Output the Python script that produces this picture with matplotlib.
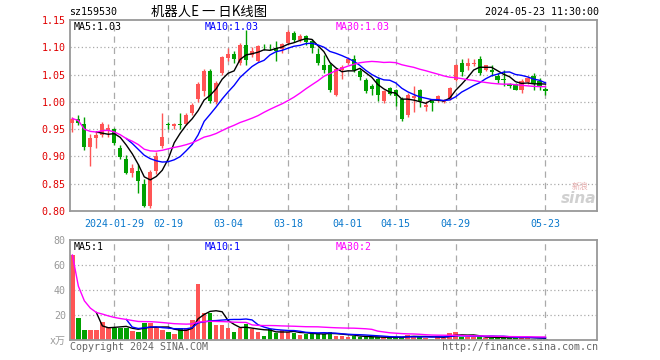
import matplotlib
matplotlib.use('Agg')
import matplotlib.pyplot as plt
import numpy as np
import pandas as pd

plt.rcParams['font.family'] = ['DejaVu Sans Mono', 'Noto Sans CJK SC']

# trading days 2024-01-18 .. 2024-05-23 (exchange holidays removed)
holidays = ['2024-02-09', '2024-02-12', '2024-02-13', '2024-02-14', '2024-02-15',
            '2024-02-16', '2024-04-04', '2024-04-05', '2024-05-01', '2024-05-02', '2024-05-03']
days = pd.bdate_range('2024-01-18', '2024-05-23')
days = days[~days.isin(pd.to_datetime(holidays))]

opens = [0.962, 0.968, 0.959, 0.918, 0.934, 0.940, 0.949, 0.950, 0.915, 0.895,
         0.869, 0.873, 0.849, 0.810, 0.873, 0.919, 0.959, 0.956, 0.960, 0.960,
         0.979, 1.005, 1.020, 1.056, 1.000, 1.053, 1.080, 1.088, 1.072, 1.104,
         1.085, 1.075, 1.101, 1.101, 1.099, 1.096, 1.108, 1.127, 1.114, 1.120,
         1.111, 1.088, 1.068, 1.068, 1.012, 1.058, 1.071, 1.079, 1.057, 1.040,
         1.029, 1.041, 1.001, 1.025, 1.022, 1.005, 0.975, 1.007, 1.021, 0.991,
         1.001, 1.002, 1.000, 1.005, 1.040, 1.071, 1.0665, 1.070, 1.079, 1.058,
         1.059, 1.048, 1.042, 1.032, 1.032, 1.022, 1.036, 1.047, 1.038, 1.024]
highs = [0.972, 0.976, 0.972, 0.942, 0.945, 0.963, 0.960, 0.952, 0.921, 0.902,
         0.887, 0.887, 0.858, 0.875, 0.908, 0.979, 0.963, 0.962, 0.979, 0.979,
         0.998, 1.036, 1.060, 1.060, 1.038, 1.084, 1.098, 1.094, 1.108, 1.131,
         1.100, 1.104, 1.106, 1.106, 1.112, 1.108, 1.132, 1.130, 1.125, 1.123,
         1.115, 1.099, 1.086, 1.072, 1.062, 1.068, 1.083, 1.085, 1.060, 1.043,
         1.032, 1.046, 1.022, 1.028, 1.024, 1.008, 1.016, 1.029, 1.024, 1.001,
         1.003, 1.013, 1.006, 1.027, 1.070, 1.078, 1.081, 1.079, 1.084, 1.068,
         1.068, 1.053, 1.058, 1.035, 1.035, 1.042, 1.047, 1.053, 1.044, 1.028]
lows = [0.945, 0.958, 0.912, 0.883, 0.915, 0.936, 0.936, 0.921, 0.896, 0.868,
        0.863, 0.833, 0.807, 0.805, 0.867, 0.915, 0.951, 0.950, 0.951, 0.958,
        0.975, 1.000, 1.010, 0.997, 0.996, 1.050, 1.075, 1.072, 1.068, 1.068,
        1.082, 1.073, 1.095, 1.095, 1.075, 1.090, 1.105, 1.110, 1.110, 1.105,
        1.090, 1.068, 1.053, 1.018, 1.010, 1.041, 1.070, 1.055, 1.040, 1.016,
        1.012, 1.001, 0.998, 1.012, 0.993, 0.965, 0.972, 0.981, 0.991, 0.983,
        0.983, 1.000, 0.998, 1.003, 1.038, 1.047, 1.059, 1.065, 1.050, 1.056,
        1.047, 1.035, 1.029, 1.025, 1.021, 1.016, 1.033, 1.022, 1.022, 1.013]
closes = [0.9695, 0.962, 0.918, 0.934, 0.940, 0.959, 0.952, 0.924, 0.899, 0.870,
          0.879, 0.855, 0.810, 0.871, 0.901, 0.936, 0.958, 0.959, 0.958, 0.976,
          0.994, 1.033, 1.056, 1.001, 1.035, 1.082, 1.088, 1.078, 1.105, 1.077,
          1.093, 1.102, 1.100, 1.100, 1.094, 1.106, 1.128, 1.114, 1.121, 1.110,
          1.099, 1.071, 1.059, 1.022, 1.060, 1.064, 1.079, 1.059, 1.045, 1.019,
          1.023, 1.013, 1.019, 1.015, 1.010, 0.968, 1.013, 1.010, 1.001, 0.995,
          0.998, 1.011, 1.003, 1.026, 1.068, 1.054, 1.0715, 1.072, 1.052, 1.067,
          1.054, 1.040, 1.040, 1.029, 1.022, 1.038, 1.044, 1.032, 1.029, 1.020]
# volume, 10k lots
volumes = [68, 18, 8, 8, 8, 14.5, 10.5, 9.5, 10, 10,
           7, 6.5, 13.5, 14, 10, 8, 6.5, 5, 9.5, 9.5,
           16, 45, 22, 22, 12, 12, 10, 6.5, 9.5, 13,
           8.5, 6.5, 3.5, 8.5, 5.5, 8, 6.5, 6, 4, 4.5,
           5.5, 5, 5, 6.5, 3.5, 3.5, 2.7, 3.5, 2.7, 2.1,
           2.1, 2.1, 2.1, 2.6, 2.1, 2.1, 4.2, 3.6, 2.1, 2.0,
           1.1, 3.5, 2.0, 5.8, 6.6, 2.6, 2.6, 2.6, 2.6, 1.3,
           2.0, 2.0, 2.0, 2.0, 2.0, 1.6, 2.6, 1.0, 1.0, 0.8]

tick_dates = ['2024-01-29', '2024-02-19', '2024-03-04', '2024-03-18',
              '2024-04-01', '2024-04-15', '2024-04-29', '2024-05-23']
tick_labels = ['2024-01-29', '02-19', '03-04', '03-18', '04-01', '04-15', '04-29', '05-23']
price_ticks = [0.80, 0.85, 0.90, 0.95, 1.00, 1.05, 1.10, 1.15]
vol_ticks = [0, 20, 40, 60, 80]
vol_tick_labels = ['x万', '20', '40', '60', '80']
price_ma_text = ['MA5:1.03', 'MA10:1.03', 'MA30:1.03']
vol_ma_text = ['MA5:1', 'MA10:1', 'MA30:2']

RED = '#ff5555'
GREEN = '#00a000'
GRID = '#aaaaaa'
FRAME = '#999999'
MA_COLORS = ['black', '#0000ff', '#ff00ff']

x = np.arange(len(closes))
o, h, l, c = map(np.array, (opens, highs, lows, closes))
up = c >= o
colors = np.where(up, RED, GREEN)
tick_pos = [list(days.strftime('%Y-%m-%d')).index(d) for d in tick_dates]

fig = plt.figure(figsize=(6.6, 3.6), dpi=100)
W, H = 660, 360
ax = fig.add_axes([70 / W, 1 - 211 / H, 527 / W, 191 / H])
axv = fig.add_axes([70 / W, 1 - 340 / H, 527 / W, 100 / H])
xlim = (-0.4, 87.6)


def frame(a):
    for s in a.spines.values():
        s.set_color(FRAME)
        s.set_linewidth(1.3)
    a.tick_params(length=0)
    for p in tick_pos:
        a.axvline(p, color=GRID, lw=0.9, ls=(0, (5, 4)), zorder=0)


# price panel
frame(ax)
for yv in price_ticks[1:-1]:
    ax.axhline(yv, color=GRID, lw=0.9, ls=(0, (1, 2)), zorder=0)
ax.vlines(x, l, h, colors=colors, lw=1, zorder=2)
body = np.maximum(np.abs(c - o), 0.0012)
ax.bar(x, body, bottom=np.minimum(o, c), width=0.7, color=colors, zorder=3)
cs = pd.Series(closes)
ma_lines = [cs.rolling(5).mean(), cs.rolling(10).mean(), cs.rolling(30, min_periods=1).mean()]
for m, col in zip(ma_lines, MA_COLORS):
    ax.plot(x, m, color=col, lw=1, zorder=4)
ax.set_xlim(*xlim)
ax.set_ylim(0.80, 1.15)
ax.set_yticks(price_ticks, ['%.2f' % v for v in price_ticks], color='#e00000', fontsize=7.2)
ax.set_xticks(tick_pos, tick_labels, color='#0a78cc', fontsize=7.2)
ax.tick_params(axis='x', pad=6)
ax.tick_params(axis='y', pad=3)

# volume panel
frame(axv)
for yv in vol_ticks[1:-1]:
    axv.axhline(yv, color=GRID, lw=0.9, ls=(0, (1, 2)), zorder=0)
axv.bar(x, volumes, width=0.78, color=colors, zorder=2)
vs = pd.Series(volumes)
vol_ma = [vs.rolling(5).mean(), vs.rolling(10).mean(), vs.rolling(30, min_periods=1).mean()]
for m, col in zip(vol_ma, MA_COLORS):
    axv.plot(x, m, color=col, lw=1, zorder=3)
axv.set_xlim(*xlim)
axv.set_ylim(0, 80)
axv.set_xticks([])
axv.set_yticks(vol_ticks, vol_tick_labels, color='#999999', fontsize=7.2)
axv.tick_params(axis='y', pad=3)


def px(xp, yp, s, **kw):
    fig.text(xp / W, 1 - yp / H, s, va='center', **kw)


# header
px(69, 12, 'sz159530', fontsize=7.2, color='black')
px(151, 12, '机器人E 一 日K线图', fontsize=9.6, color='black', family=['Noto Sans CJK SC'])
px(599, 12, '2024-05-23 11:30:00', fontsize=7.2, color='black', ha='right')

# MA legends
for xp, s, col in zip([74, 205, 336], price_ma_text, MA_COLORS):
    px(xp, 27, s, fontsize=7.2, color=col)
for xp, s, col in zip([74, 205, 336], vol_ma_text, MA_COLORS):
    px(xp, 247, s, fontsize=7.2, color=col)

# watermark logo
px(596, 198, 'sina', fontsize=11, color='#d0d0d0', ha='right', style='italic',
   weight='bold', family=['DejaVu Sans'])
px(580, 186, '新浪', fontsize=6, color='#e8b0b0', ha='center', family=['Noto Sans CJK SC'])

# footer
px(70, 347, 'Copyright 2024 SINA.COM', fontsize=7.2, color='#666666')
px(598, 347, 'http://finance.sina.com.cn', fontsize=7.2, color='#666666', ha='right')

fig.savefig('out.png', dpi=100)
